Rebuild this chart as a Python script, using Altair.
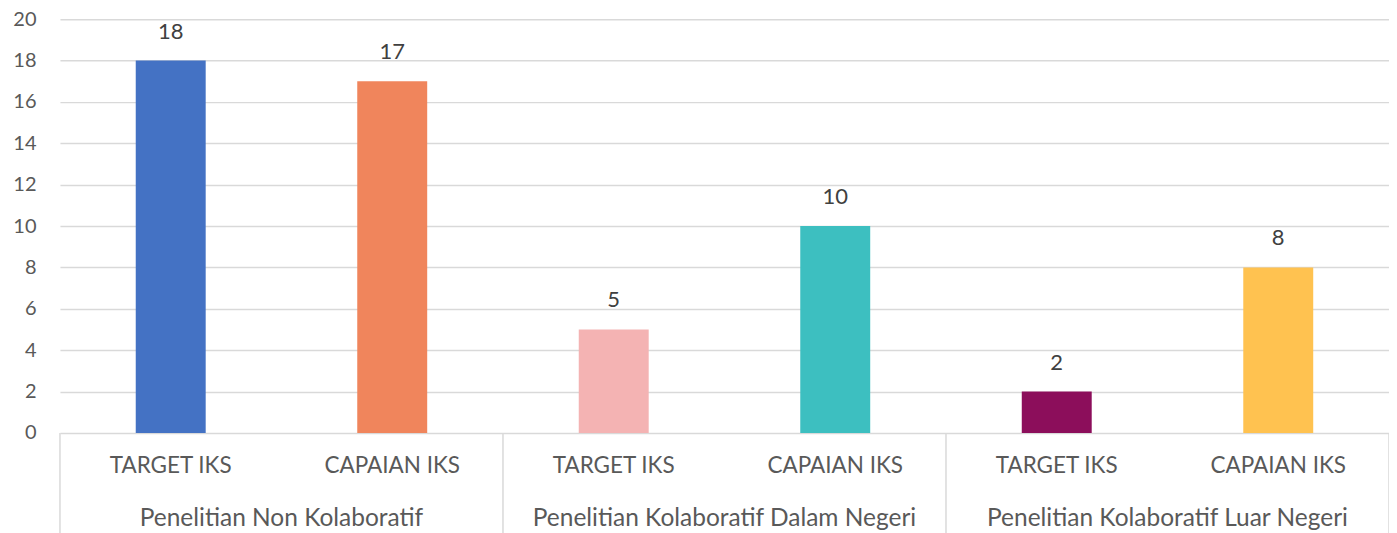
import altair as alt
import pandas as pd

groups = ["Penelitian Non Kolaboratif", "Penelitian Kolaboratif Dalam Negeri", "Penelitian Kolaboratif Luar Negeri"]
subs = ["TARGET IKS", "CAPAIAN IKS"]
values = [18, 17, 5, 10, 2, 8]
colors = ["#4472C4", "#F0855C", "#F4B3B3", "#3DBFC0", "#8C0E5B", "#FFC250"]

rows = []
i = 0
for g in groups:
    for s in subs:
        rows.append({"key": f"{i}", "group": g, "sub": s, "value": values[i], "color": colors[i],
                     "first": s == subs[0]})
        i += 1
df = pd.DataFrame(rows)
order = list(df["key"])

W, H = 1330, 414
FONT = "Lato"
x_scale = alt.Scale(domain=order, paddingInner=0, paddingOuter=0)

base = alt.Chart(df)

bars = base.mark_bar(size=70).encode(
    x=alt.X("key:N", scale=x_scale, sort=order, axis=None),
    y=alt.Y("value:Q", scale=alt.Scale(domain=[0, 20], nice=False),
            axis=alt.Axis(values=list(range(0, 21, 2)), title=None, domain=False, ticks=False,
                          labelFontSize=20, labelColor="#595959", labelFont=FONT, labelPadding=24,
                          gridColor="#D9D9D9", gridWidth=1.5)),
    color=alt.Color("color:N", scale=None),
)

vals = base.mark_text(baseline="middle", dy=-29, fontSize=22, font=FONT, color="#404040").encode(
    x=alt.X("key:N", scale=x_scale, sort=order),
    y="value:Q",
    text="value:Q",
)

sublabels = base.mark_text(baseline="middle", fontSize=22.5, font=FONT, color="#595959").encode(
    x=alt.X("key:N", scale=x_scale, sort=order),
    y=alt.value(H + 33),
    text="sub:N",
)

firsts = base.transform_filter("datum.first")

grouplabels = firsts.mark_text(baseline="middle", fontSize=24.5, font=FONT, color="#595959").encode(
    x=alt.X("key:N", scale=x_scale, sort=order, bandPosition=1),
    y=alt.value(H + 86),
    text="group:N",
)

seps = firsts.mark_rule(color="#D9D9D9", strokeWidth=1.5).encode(
    x=alt.X("key:N", scale=x_scale, sort=order, bandPosition=0),
    y=alt.value(H),
    y2=alt.value(H + 110),
)

endsep = base.transform_filter(f"datum.key == '{order[-1]}'").mark_rule(color="#D9D9D9", strokeWidth=1.5).encode(
    x=alt.X("key:N", scale=x_scale, sort=order, bandPosition=1),
    y=alt.value(H),
    y2=alt.value(H + 110),
)

chart = alt.layer(bars, vals, sublabels, grouplabels, seps, endsep).properties(
    width=W, height=H,
    autosize=alt.AutoSizeParams(type="none"),
    padding={"left": 52, "top": 11, "right": 0, "bottom": 110},
).configure_view(stroke=None)

chart.save("out.html", embed_options={"renderer": "svg", "actions": False})
